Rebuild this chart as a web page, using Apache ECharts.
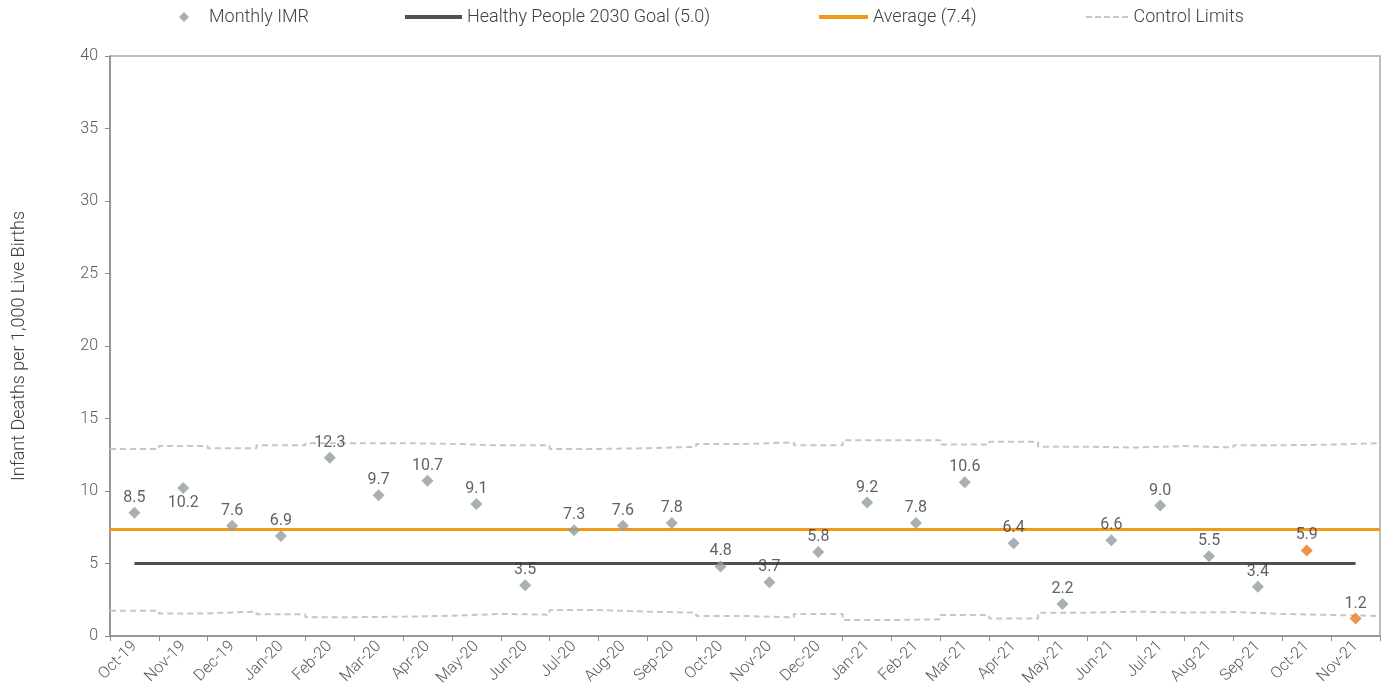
<!DOCTYPE html>
<html>
<head>
<meta charset="utf-8">
<script src="https://cdn.jsdelivr.net/npm/echarts@6/dist/echarts.min.js"></script>
<style>
html,body{margin:0;padding:0;background:#fff;}
#c{width:1388px;height:698px;}
</style>
</head>
<body>
<div id="c"></div>
<script>
const months = ['Oct-19','Nov-19','Dec-19','Jan-20','Feb-20','Mar-20','Apr-20','May-20','Jun-20','Jul-20','Aug-20','Sep-20','Oct-20','Nov-20','Dec-20','Jan-21','Feb-21','Mar-21','Apr-21','May-21','Jun-21','Jul-21','Aug-21','Sep-21','Oct-21','Nov-21'];
const monthlyIMR = [8.5,10.2,7.6,6.9,12.3,9.7,10.7,9.1,3.5,7.3,7.6,7.8,4.8,3.7,5.8,9.2,7.8,10.6,6.4,2.2,6.6,9.0,5.5,3.4,5.9,1.2];
const upperLimit = [12.9,13.1,12.95,13.15,13.3,13.3,13.25,13.15,13.15,12.9,12.95,13.05,13.25,13.35,13.15,13.5,13.5,13.2,13.4,13.05,13.0,13.1,13.0,13.15,13.2,13.3];
const lowerLimit = [1.75,1.56,1.68,1.5,1.3,1.33,1.4,1.52,1.47,1.79,1.68,1.61,1.38,1.29,1.52,1.1,1.15,1.45,1.2,1.61,1.68,1.61,1.65,1.52,1.45,1.38];
const goalValue = 5.0;
const averageValue = 7.35;
const highlightedMonths = ['Oct-21','Nov-21'];
const yTicks = [0,5,10,15,20,25,30,35,40];

const grayMarker = '#919EA0';
const orangeMarker = '#E8791E';
const labelBelow = {1: true};

const imrData = monthlyIMR.map((v, i) => ({
  value: v,
  itemStyle: { color: highlightedMonths.includes(months[i]) ? orangeMarker : grayMarker },
  label: { position: labelBelow[i] ? 'bottom' : 'top' }
}));
function stepData(arr) {
  const out = [];
  arr.forEach((v, i) => { out.push([i, v]); out.push([i + 1, v]); });
  return out;
}
const n = months.length;
const font = 'Roboto, "Liberation Sans", sans-serif';
const legendText = { fontSize: 18, color: '#404040', fontFamily: font, fontWeight: 300 };
const dashIcon = 'path://M0,0h6v2h-6z M9,0h6v2h-6z M18,0h6v2h-6z M27,0h6v2h-6z M36,0h6v2h-6z';

const chart = echarts.init(document.getElementById('c'), null, {renderer: 'canvas'});
chart.setOption({
  animation: false,
  backgroundColor: '#fff',
  textStyle: { fontFamily: font },
  grid: { left: 110, right: 8, top: 56, bottom: 62, containLabel: false,
    show: true, borderColor: '#A6A6A6', borderWidth: 1.5, backgroundColor: 'transparent' },
  legend: [
    { data: [{ name: 'Monthly IMR', icon: 'diamond' }], left: 179, top: 8, padding: 0, itemWidth: 10, itemHeight: 10,
      textStyle: Object.assign({ padding: [0,0,0,15] }, legendText) },
    { data: [{ name: 'Healthy People 2030 Goal (5.0)', icon: 'rect' }], left: 405, top: 8, padding: 0, itemWidth: 57, itemHeight: 4,
      textStyle: legendText },
    { data: [{ name: 'Average (7.4)', icon: 'rect' }], left: 819, top: 8, padding: 0, itemWidth: 49, itemHeight: 4,
      textStyle: legendText },
    { data: [{ name: 'Control Limits', icon: dashIcon }], left: 1086, top: 8, padding: 0, itemWidth: 43, itemHeight: 2,
      textStyle: legendText }
  ],
  xAxis: [
    { type: 'category', data: months, boundaryGap: true,
      axisLine: { lineStyle: { color: '#8C8C8C', width: 1.5 } },
      axisTick: { show: true, length: 5, lineStyle: { color: '#8C8C8C' } },
      axisLabel: { rotate: 45, fontSize: 16, color: '#595959', margin: 8, interval: 0, fontFamily: font, fontWeight: 300 },
      splitLine: { show: false } },
    { type: 'value', min: 0, max: n, show: false }
  ],
  yAxis: [
    { type: 'value', min: 0, max: 40, interval: 5,
      name: 'Infant Deaths per 1,000 Live Births', nameLocation: 'middle', nameGap: 82, nameRotate: 90,
      nameTextStyle: { fontSize: 18, color: '#404040', fontFamily: font, fontWeight: 300 },
      axisLine: { show: true, lineStyle: { color: '#8C8C8C', width: 1.5 } },
      axisTick: { show: true, length: 5, lineStyle: { color: '#8C8C8C' } },
      axisLabel: { fontSize: 16, color: '#595959', margin: 12, fontFamily: font, fontWeight: 300,
        formatter: v => yTicks.includes(v) ? String(v) : '' },
      splitLine: { show: false } }
  ],
  series: [
    { name: 'Control Limits', type: 'line', xAxisIndex: 1, yAxisIndex: 0,
      data: stepData(upperLimit), symbol: 'none', z: 1,
      lineStyle: { color: '#C6C6C6', width: 2, type: [6, 4] }, itemStyle: { color: '#C6C6C6' } },
    { name: 'Control Limits', type: 'line', xAxisIndex: 1, yAxisIndex: 0,
      data: stepData(lowerLimit), symbol: 'none', z: 1,
      lineStyle: { color: '#C6C6C6', width: 2, type: [6, 4] }, itemStyle: { color: '#C6C6C6' } },
    { name: 'Healthy People 2030 Goal (5.0)', type: 'line', xAxisIndex: 0, yAxisIndex: 0,
      data: months.map(() => goalValue), symbol: 'none', z: 2,
      lineStyle: { color: '#505050', width: 3 }, itemStyle: { color: '#505050' } },
    { name: 'Average (7.4)', type: 'line', xAxisIndex: 1, yAxisIndex: 0,
      data: [[0, averageValue], [n, averageValue]], symbol: 'none', z: 2,
      lineStyle: { color: '#F29A17', width: 3 }, itemStyle: { color: '#F29A17' } },
    { name: 'Monthly IMR', type: 'scatter', xAxisIndex: 0, yAxisIndex: 0,
      data: imrData, symbol: 'diamond', symbolSize: 12, z: 5,
      itemStyle: { color: grayMarker },
      label: { show: true, fontSize: 16, color: '#3A3A3A', distance: 1, fontFamily: font, fontWeight: 400,
        formatter: p => Number(p.value).toFixed(1) } }
  ]
});
</script>
</body>
</html>
